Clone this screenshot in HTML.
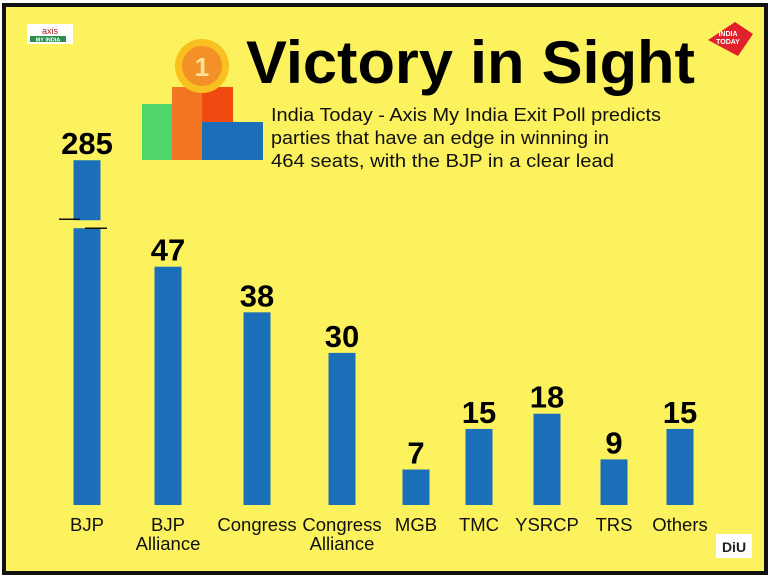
<!DOCTYPE html>
<html><head><meta charset="utf-8"><style>
html,body{margin:0;padding:0;background:#fff;}
#wrap{position:relative;width:770px;height:578px;overflow:hidden;background:#fff;}
svg text{font-family:"Liberation Sans",sans-serif;}
</style></head><body>
<div id="wrap">
<svg id="chart" width="770" height="578" viewBox="0 0 770 578">
  <rect x="4" y="5" width="762" height="568" fill="#fcf25e" stroke="#111" stroke-width="4"/>
  <g>
    <rect x="27" y="24" width="46" height="20" fill="#fff"/>
    <text x="50" y="34" font-size="9" text-anchor="middle" fill="#a02020" font-family="Liberation Serif,serif">axis</text>
    <rect x="30" y="36" width="36" height="6" fill="#2a8f4a"/>
    <text x="48" y="41.5" font-size="5.5" text-anchor="middle" fill="#fff" font-weight="bold">MY INDIA</text>
  </g>
  <g>
    <rect x="142" y="104" width="30" height="56" fill="#4fd66a"/>
    <rect x="172" y="87" width="30" height="73" fill="#f47521"/>
    <rect x="202" y="87" width="31" height="35" fill="#f04a10"/>
    <rect x="202" y="122" width="61" height="38" fill="#1a6fb8"/>
    <circle cx="202" cy="66" r="27" fill="#f9c020"/>
    <circle cx="202" cy="66" r="20" fill="#f39028"/>
    <text x="202" y="76" font-size="26" font-weight="bold" text-anchor="middle" fill="#fde49a">1</text>
  </g>
  <text x="246" y="83" font-size="60" font-weight="bold" fill="#000" textLength="449" lengthAdjust="spacingAndGlyphs">Victory in Sight</text>
  <g font-size="18.5" fill="#111">
    <text x="271" y="121" textLength="390" lengthAdjust="spacingAndGlyphs">India Today - Axis My India Exit Poll predicts</text>
    <text x="271" y="144" textLength="338" lengthAdjust="spacingAndGlyphs">parties that have an edge in winning in</text>
    <text x="271" y="167" textLength="343" lengthAdjust="spacingAndGlyphs">464 seats, with the BJP in a clear lead</text>
  </g>
  <g>
    <path d="M708 40 L735 22 L753 34 L738 56 Z" fill="#e0202a"/>
    <text x="728" y="36" font-size="7" font-weight="bold" fill="#fff" text-anchor="middle">INDIA</text>
    <text x="728" y="44" font-size="7" font-weight="bold" fill="#fff" text-anchor="middle">TODAY</text>
  </g>
  <g>
    <rect x="716" y="534" width="36" height="24" fill="#fff"/>
    <text x="734" y="552" font-size="14" font-weight="bold" fill="#222" text-anchor="middle">DiU</text>
  </g>
  <g id="bars"></g>
</svg>
</div>
<script>
const categories = ["BJP","BJP|Alliance","Congress","Congress|Alliance","MGB","TMC","YSRCP","TRS","Others"];
const seats = [285,47,38,30,7,15,18,9,15];
const centers = [87,168,257,342,416,479,547,614,680];
const baseY = 505, pxPer = 5.07, barW = 27, capVal = 68;
function y(v){ return baseY - v*pxPer; }
const g = document.getElementById('bars');
const NS = "http://www.w3.org/2000/svg";
function mk(tag, attrs){ const e=document.createElementNS(NS,tag); for(const k in attrs) e.setAttribute(k,attrs[k]); return e; }
categories.forEach((c,i)=>{
  const v = seats[i], cx = centers[i];
  const broken = v > capVal;
  const top = broken ? y(capVal) : y(v);
  const bar = mk('rect',{x:cx-barW/2,y:top,width:barW,height:baseY-top,fill:'#1a6fb8'});
  
  
  g.appendChild(bar);
  if(broken){
    const gap = mk('rect',{x:cx-barW/2-1,y:top+60,width:barW+2,height:8,fill:'#fcf25e'});
    
    
    g.appendChild(gap);
    const l1 = mk('line',{x1:cx-28,y1:top+59,x2:cx-7,y2:top+59,stroke:'#111','stroke-width':1.5});
    
    
    g.appendChild(l1);
    const l2 = mk('line',{x1:cx-2,y1:top+68,x2:cx+20,y2:top+68,stroke:'#111','stroke-width':1.5});
    
    
    g.appendChild(l2);
  }
  const lbl = mk('text',{x:cx,y:top-6,'font-size':31,'font-weight':'bold','text-anchor':'middle',fill:'#000'});
  lbl.textContent = v;
  
  
  g.appendChild(lbl);
  c.split('|').forEach((part,j)=>{
    const t = mk('text',{x:cx,y:531+j*19,'font-size':18.5,'text-anchor':'middle',fill:'#111'});
    t.textContent = part;
    
    
    g.appendChild(t);
  });
});
</script>
</body></html>
